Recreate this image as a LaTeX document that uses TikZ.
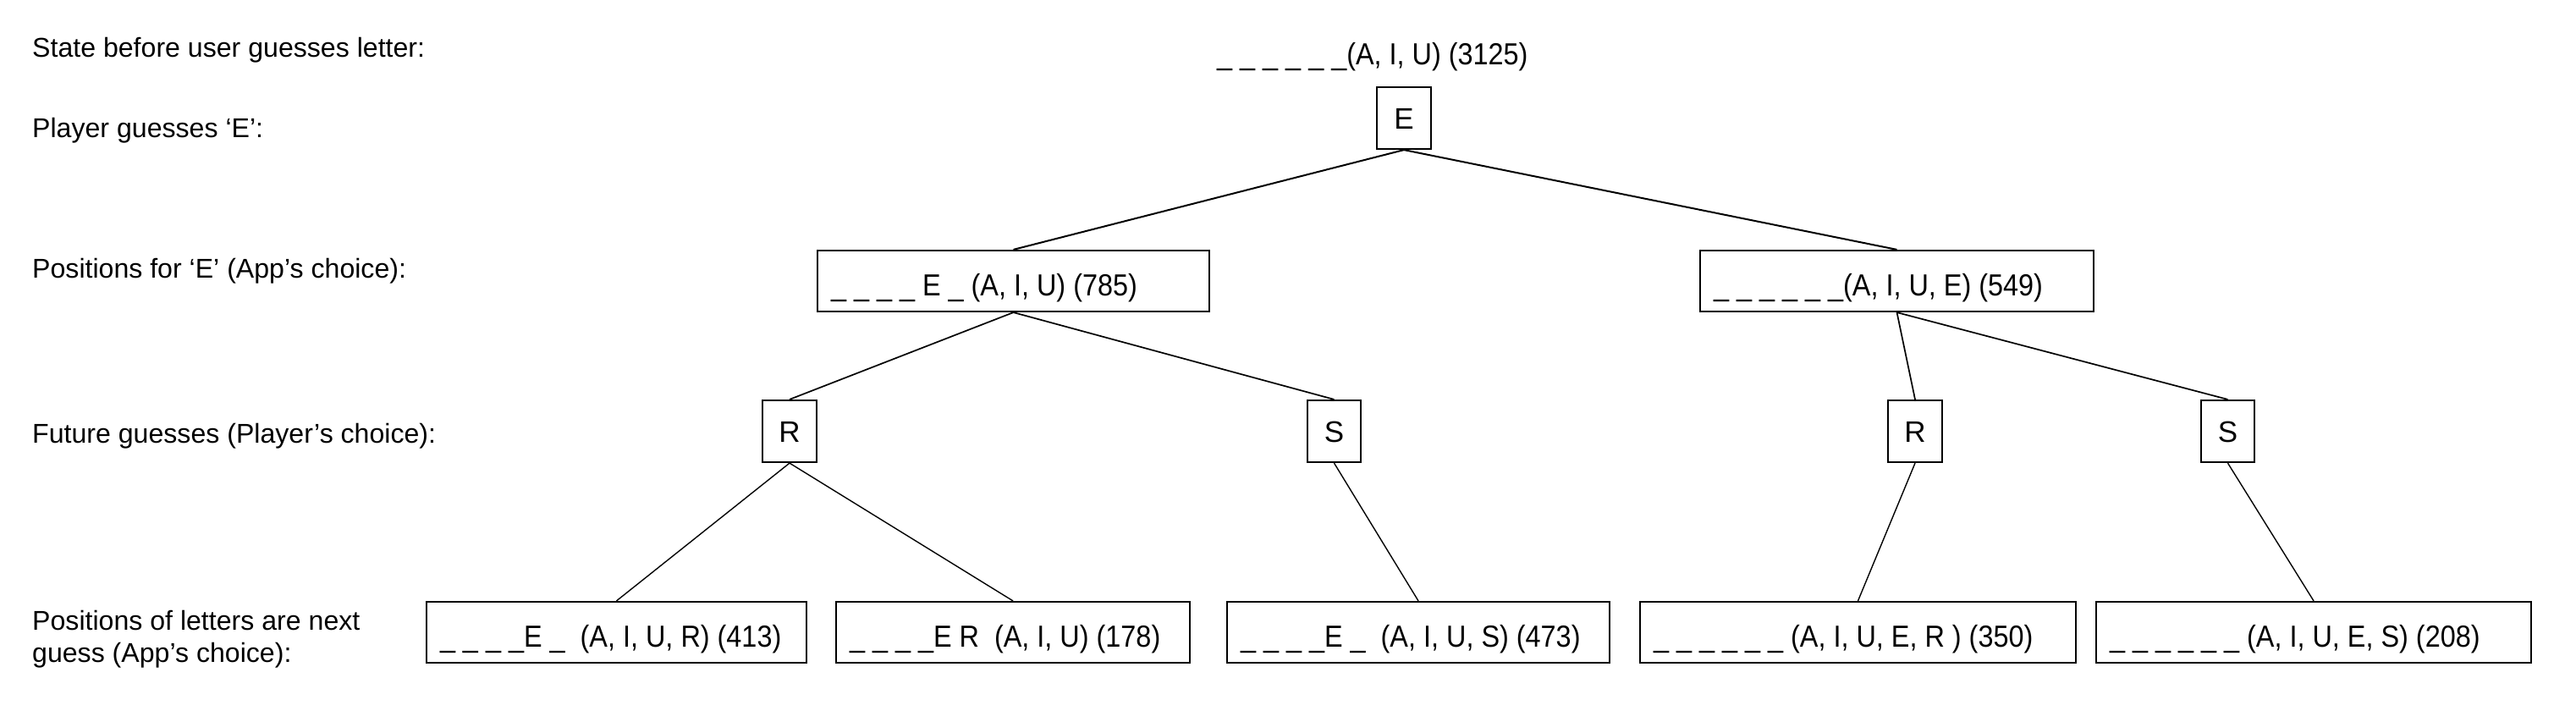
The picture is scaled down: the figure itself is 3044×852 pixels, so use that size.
\documentclass[tikz,border=0pt]{standalone}
\usepackage{fontspec}
\setmainfont{Liberation Sans}
\newfontfamily\boxff[FakeStretch=0.9]{Liberation Sans}
\newcommand\boxfont{\boxff\fontsize{36}{42}\selectfont}
\newcommand\labfont{\fontsize{32.1}{38}\selectfont}
\newcommand\letfont{\fontsize{35}{40}\selectfont}
\newcommand\boxtxt[2]{\makebox[#1][l]{#2}}
\begin{document}
\begin{tikzpicture}[x=1pt,y=-1pt,
  box/.style={draw, line width=2.2pt, inner xsep=16pt, inner ysep=0pt,
    minimum height=72pt, font=\boxfont, text height=40pt, text depth=6pt},
  letbox/.style={draw, line width=2.2pt, inner sep=0pt, minimum width=64pt,
    minimum height=73pt, font=\letfont, text height=25pt, text depth=0pt},
  lab/.style={font=\labfont, inner sep=0pt, anchor=base west},
  topline/.style={line width=2pt},
  midline/.style={line width=1.7pt},
  lowline/.style={line width=1.4pt}]
\useasboundingbox (0,0) rectangle (3044,852);
% row labels
\node[lab] (l1) at (38,67) {State before user guesses letter:};
\node[lab] (l2) at (38,162) {Player guesses ‘E’:};
\node[lab] (l3) at (38,328) {Positions for ‘E’ (App’s choice):};
\node[lab] (l4) at (38,523) {Future guesses (Player’s choice):};
\node[font=\labfont, inner sep=0pt, anchor=west, align=left] (l5) at (38,755)
  {Positions of letters are next\\guess (App’s choice):};
% top state
\node[font=\boxfont, inner sep=0pt, anchor=base west] (st) at (1438,76)
  {\_ \_ \_ \_ \_ \_(A, I, U) (3125)};
% tree
\node[letbox] (E) at (1659,139.5) {E};
\node[box] (t785) at (1197.5,332) {\boxtxt{431pt}{\_ \_ \_ \_ E \_ (A, I, U) (785)}};
\node[box] (t549) at (2241.5,332) {\boxtxt{433pt}{\_ \_ \_ \_ \_ \_(A, I, U, E) (549)}};
\node[letbox] (r1) at (933,509.5) {R};
\node[letbox, minimum width=63pt] (s1) at (1576.5,509.5) {S};
\node[letbox] (r2) at (2263,509.5) {R};
\node[letbox, minimum width=63pt] (s2) at (2632.5,509.5) {S};
\node[box] (b1) at (728.5,747) {\boxtxt{417pt}{\_ \_ \_ \_E \_~~(A, I, U, R) (413)}};
\node[box] (b2) at (1197,747) {\boxtxt{386pt}{\_ \_ \_ \_E R~~(A, I, U) (178)}};
\node[box] (b3) at (1676,747) {\boxtxt{420pt}{\_ \_ \_ \_E \_~~(A, I, U, S) (473)}};
\node[box] (b4) at (2195.5,747) {\boxtxt{483pt}{\_ \_ \_ \_ \_ \_ (A, I, U, E, R ) (350)}};
\node[box] (b5) at (2734,747) {\boxtxt{482pt}{\_ \_ \_ \_ \_ \_ (A, I, U, E, S) (208)}};
% connectors
\draw[topline] (E.south) -- (t785.north);
\draw[topline] (E.south) -- (t549.north);
\draw[midline] (t785.south) -- (r1.north);
\draw[midline] (t785.south) -- (s1.north);
\draw[midline] (t549.south) -- (r2.north);
\draw[midline] (t549.south) -- (s2.north);
\draw[lowline] (r1.south) -- (b1.north);
\draw[lowline] (r1.south) -- (b2.north);
\draw[lowline] (s1.south) -- (b3.north);
\draw[lowline] (r2.south) -- (b4.north);
\draw[lowline] (s2.south) -- (b5.north);
\end{tikzpicture}
\end{document}
